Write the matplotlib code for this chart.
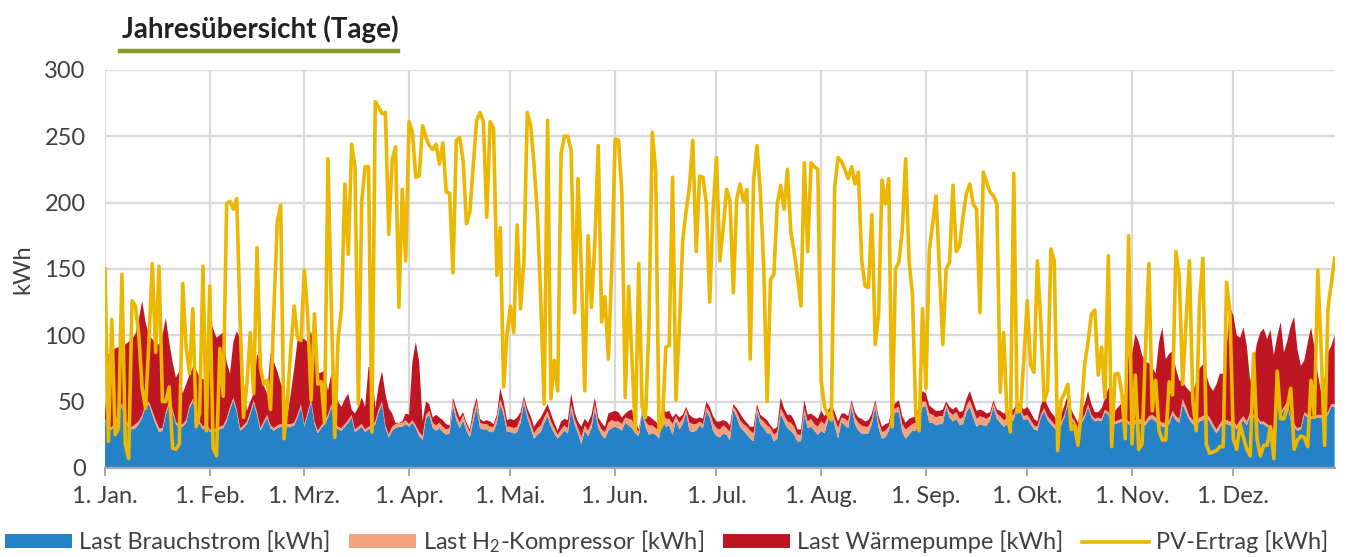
import matplotlib
matplotlib.use("Agg")
import matplotlib.pyplot as plt
from matplotlib.lines import Line2D
import numpy as np

plt.rcParams["font.family"] = ["Lato", "DejaVu Sans"]
plt.rcParams["mathtext.default"] = "regular"

month_labels = ["1. Jan.", "1. Feb.", "1. Mrz.", "1. Apr.", "1. Mai.", "1. Jun.",
                "1. Jul.", "1. Aug.", "1. Sep.", "1. Okt.", "1. Nov.", "1. Dez."]
month_days = [31, 28, 31, 30, 31, 30, 31, 31, 30, 31, 30, 31]

# daily values, one row per month (kWh)
brauchstrom = [
    36, 28, 29, 32, 40, 47, 35, 30, 29, 30, 33, 38, 46, 48, 40, 33, 27, 28, 40, 48, 42, 33, 30, 31, 34, 45, 50, 42, 33, 29, 32,
    27, 27, 28, 29, 30, 35, 44, 51, 42, 28, 30, 33, 40, 49, 40, 28, 33, 38, 30, 28, 30, 31, 31, 31, 31, 32, 38, 46,
    31, 40, 50, 33, 26, 30, 33, 38, 46, 32, 29, 28, 31, 34, 38, 27, 29, 31, 27, 29, 30, 33, 42, 48, 30, 23, 28, 30, 31, 31, 33,
    31, 34, 30, 24, 21, 37, 40, 30, 28, 30, 27, 25, 26, 47, 36, 30, 36, 28, 23, 35, 46, 30, 29, 29, 27, 27, 34, 48, 40, 27,
    27, 26, 27, 34, 49, 38, 30, 22, 25, 27, 34, 39, 31, 26, 22, 25, 28, 26, 44, 33, 26, 18, 28, 24, 30, 44, 30, 25, 22, 28, 30,
    31, 30, 28, 34, 32, 30, 26, 24, 41, 31, 25, 26, 25, 22, 36, 31, 32, 25, 36, 29, 33, 42, 28, 27, 28, 32, 30, 43, 38, 28,
    24, 23, 26, 25, 21, 44, 38, 31, 28, 25, 22, 20, 43, 33, 30, 26, 26, 20, 22, 41, 35, 30, 28, 25, 20, 20, 41, 30, 31, 28, 25,
    28, 26, 36, 46, 32, 22, 35, 32, 30, 46, 33, 28, 26, 26, 26, 33, 46, 30, 22, 23, 28, 37, 42, 42, 27, 22, 25, 28, 28, 36, 46,
    46, 34, 34, 32, 33, 33, 46, 38, 35, 37, 32, 33, 42, 46, 38, 31, 33, 32, 32, 36, 46, 37, 34, 31, 33, 35, 36, 47, 42, 36,
    37, 33, 29, 28, 38, 43, 36, 33, 30, 28, 32, 38, 48, 36, 33, 28, 33, 38, 46, 38, 35, 36, 35, 42, 40, 35, 33, 34, 35, 36, 33,
    31, 33, 34, 33, 32, 36, 37, 35, 33, 31, 31, 33, 40, 36, 34, 48, 42, 36, 33, 32, 35, 36, 38, 35, 30, 26, 30, 34, 33, 32,
    32, 29, 33, 36, 32, 40, 38, 37, 33, 33, 31, 29, 26, 46, 40, 44, 48, 36, 31, 28, 29, 40, 38, 37, 37, 38, 38, 37, 40, 46, 46,
]
h2_kompressor = [
    1, 2, 2, 2, 2, 2, 2, 2, 2, 3, 2, 2, 2, 2, 3, 3, 3, 2, 2, 2, 2, 2, 2, 2, 2, 2, 2, 2, 2, 2, 2,
    2, 2, 2, 2, 2, 2, 2, 2, 2, 2, 2, 2, 2, 2, 2, 2, 2, 2, 2, 2, 2, 2, 2, 2, 2, 2, 2, 2,
    2, 2, 2, 2, 2, 2, 2, 2, 2, 2, 2, 2, 2, 2, 2, 2, 2, 2, 2, 2, 2, 2, 2, 2, 2, 2, 3, 3, 3, 3, 3,
    2, 2, 2, 3, 3, 3, 3, 4, 4, 4, 4, 4, 4, 4, 4, 4, 4, 4, 4, 4, 4, 4, 4, 4, 4, 4, 4, 4, 4, 4,
    4, 4, 4, 4, 3, 3, 4, 4, 5, 5, 4, 4, 4, 4, 3, 4, 4, 4, 4, 4, 4, 5, 4, 4, 4, 4, 4, 4, 5, 6, 6,
    4, 5, 5, 4, 5, 6, 5, 3, 1, 4, 7, 6, 5, 6, 6, 6, 5, 8, 3, 5, 4, 2, 6, 6, 5, 3, 3, 3, 4, 6,
    6, 6, 6, 5, 6, 2, 4, 5, 5, 6, 6, 6, 2, 4, 5, 6, 4, 5, 5, 4, 5, 5, 6, 6, 5, 5, 4, 5, 6, 5, 6,
    7, 7, 3, 0, 5, 8, 3, 5, 5, 3, 5, 6, 6, 5, 5, 4, 3, 5, 5, 5, 3, 5, 3, 4, 6, 7, 6, 5, 6, 5, 4,
    4, 7, 6, 6, 6, 6, 2, 4, 5, 5, 5, 5, 5, 5, 6, 6, 6, 6, 5, 3, 3, 4, 5, 5, 4, 5, 4, 1, 2, 3,
    3, 3, 3, 3, 2, 2, 3, 3, 3, 2, 2, 2, 2, 3, 2, 2, 3, 2, 2, 2, 2, 2, 2, 2, 2, 3, 2, 2, 2, 2, 2,
    3, 3, 3, 3, 3, 3, 3, 3, 3, 3, 3, 3, 3, 3, 3, 4, 4, 3, 3, 3, 3, 3, 3, 3, 3, 3, 3, 3, 3, 3,
    3, 3, 3, 3, 3, 2, 2, 2, 2, 2, 2, 2, 2, 2, 2, 2, 2, 2, 2, 2, 2, 2, 2, 2, 2, 2, 2, 2, 2, 2, 2,
]
waermepumpe = [
    2, 56, 57, 56, 49, 41, 56, 63, 66, 68, 77, 86, 62, 50, 54, 58, 63, 70, 71, 45, 36, 33, 41, 23, 27, 23, 24, 30, 33, 36, 32,
    84, 76, 68, 69, 70, 43, 25, 42, 59, 68, 34, 8, 8, 5, 44, 50, 27, 16, 55, 50, 41, 31, 25, 7, 23, 41, 56, 50,
    64, 53, 51, 53, 43, 40, 38, 18, 23, 21, 19, 16, 19, 20, 4, 12, 15, 20, 17, 45, 44, 10, 18, 23, 24, 20, 10, 1, 0, 1, 5,
    7, 44, 63, 53, 11, 10, 5, 4, 8, 4, 5, 4, 2, 2, 5, 4, 2, 2, 2, 5, 3, 3, 2, 3, 4, 2, 2, 8, 6, 5,
    6, 6, 7, 4, 2, 4, 5, 5, 5, 6, 5, 5, 6, 4, 3, 6, 5, 6, 8, 5, 5, 8, 5, 6, 6, 5, 4, 5, 4, 7, 6,
    8, 7, 5, 3, 6, 8, 4, 2, 1, 4, 7, 5, 5, 4, 5, 5, 6, 5, 2, 4, 3, 2, 6, 5, 4, 3, 4, 4, 4, 5,
    5, 6, 4, 5, 5, 2, 3, 5, 4, 3, 3, 5, 3, 3, 3, 4, 2, 4, 4, 8, 5, 5, 6, 5, 4, 4, 6, 5, 4, 6, 6,
    8, 6, 4, 2, 5, 5, 3, 4, 4, 2, 4, 4, 5, 4, 5, 4, 2, 4, 4, 5, 3, 4, 4, 5, 6, 5, 6, 5, 5, 6, 8,
    6, 6, 5, 5, 4, 5, 2, 4, 4, 4, 5, 5, 5, 7, 6, 6, 5, 5, 4, 3, 2, 3, 4, 5, 5, 4, 4, 2, 3, 5,
    6, 6, 5, 4, 7, 8, 8, 6, 6, 4, 6, 7, 5, 5, 4, 4, 8, 8, 10, 8, 5, 4, 8, 8, 18, 20, 8, 10, 12, 18, 50,
    51, 65, 58, 49, 45, 40, 36, 33, 59, 72, 48, 50, 45, 36, 29, 13, 15, 19, 20, 30, 37, 39, 29, 24, 25, 34, 38, 34, 54, 86,
    80, 68, 62, 67, 57, 23, 39, 55, 67, 70, 64, 73, 57, 51, 68, 41, 46, 69, 81, 59, 46, 39, 54, 67, 52, 31, 17, 28, 45, 44, 52,
]
pv_ertrag = [
    150, 20, 112, 25, 30, 146, 18, 7, 126, 122, 100, 60, 45, 95, 154, 87, 152, 50, 50, 61, 15, 14, 18, 139, 91, 71, 120, 31, 41, 152, 28,
    137, 15, 9, 90, 54, 199, 201, 195, 203, 110, 38, 63, 102, 56, 166, 76, 63, 66, 44, 120, 186, 198, 22, 51, 90, 122, 98, 96,
    149, 115, 51, 116, 63, 65, 34, 233, 120, 23, 98, 120, 214, 161, 244, 227, 48, 201, 227, 227, 27, 276, 272, 267, 268, 176, 232, 242, 121, 210, 156,
    261, 253, 219, 220, 258, 249, 243, 240, 244, 229, 245, 208, 207, 147, 247, 249, 232, 184, 193, 228, 262, 268, 261, 189, 261, 256, 145, 181, 61, 101,
    122, 102, 183, 120, 156, 268, 258, 229, 191, 126, 48, 262, 52, 81, 58, 237, 250, 250, 239, 117, 218, 150, 58, 175, 121, 170, 243, 110, 129, 82, 150,
    248, 247, 207, 53, 137, 81, 28, 154, 46, 38, 106, 253, 224, 28, 33, 91, 92, 219, 51, 106, 171, 193, 212, 247, 163, 220, 219, 199, 125, 194,
    234, 156, 181, 210, 201, 132, 203, 214, 201, 210, 82, 217, 243, 207, 150, 50, 142, 146, 199, 213, 195, 225, 178, 163, 144, 122, 230, 163, 230, 227, 225,
    66, 46, 40, 36, 212, 234, 231, 225, 218, 227, 214, 223, 156, 137, 136, 191, 93, 116, 217, 199, 218, 31, 150, 155, 179, 233, 156, 131, 41, 28, 120,
    60, 164, 184, 205, 150, 93, 150, 155, 213, 163, 168, 190, 207, 214, 199, 195, 117, 223, 215, 208, 205, 199, 57, 102, 41, 27, 222, 42, 43, 82,
    126, 77, 72, 156, 110, 51, 58, 165, 156, 13, 51, 56, 63, 29, 32, 17, 43, 78, 95, 116, 119, 70, 91, 53, 160, 16, 71, 71, 56, 22, 175,
    18, 70, 14, 18, 90, 154, 43, 66, 28, 21, 21, 65, 55, 163, 144, 63, 110, 156, 51, 28, 126, 158, 18, 11, 12, 13, 16, 16, 140, 117,
    22, 14, 33, 23, 14, 9, 86, 22, 9, 17, 17, 31, 7, 73, 37, 37, 46, 60, 14, 21, 24, 23, 16, 66, 38, 149, 88, 17, 120, 139, 158,
]

days = np.arange(len(pv_ertrag))
month_starts = np.concatenate([[0], np.cumsum(month_days)[:-1]])

c_blue = "#2682C7"
c_salmon = "#F4A27C"
c_red = "#BE1622"
c_yellow = "#EBB700"
c_text = "#404040"

fig = plt.figure(figsize=(13.55, 5.57), dpi=100)
ax = fig.add_axes([0.0775, 0.160, 0.9075, 0.7145])

ax.stackplot(days, brauchstrom, h2_kompressor, waermepumpe,
             colors=[c_blue, c_salmon, c_red], linewidth=0,
             labels=["Last Brauchstrom [kWh]", "Last H$_2$-Kompressor [kWh]",
                     "Last Wärmepumpe [kWh]"], zorder=2)
ax.plot(days, pv_ertrag, color=c_yellow, lw=2.6, label="PV-Ertrag [kWh]", zorder=3)

ax.set_xlim(0, len(days) - 1)
ax.set_ylim(0, 300)
ax.set_yticks(range(0, 301, 50))
ax.set_xticks(month_starts)
ax.set_xticklabels(month_labels)
ax.grid(True, color="#D9D9D9", lw=1.6, zorder=0)
ax.set_axisbelow(True)
for side in ["top", "right", "left"]:
    ax.spines[side].set_visible(False)
ax.spines["bottom"].set_color("#A6A6A6")
ax.spines["bottom"].set_linewidth(1.6)
ax.spines["bottom"].set_zorder(4)
ax.tick_params(axis="x", colors="#A6A6A6", length=6, width=1.4, labelcolor=c_text,
               labelsize=17, pad=7)
ax.tick_params(axis="y", length=0, labelcolor=c_text, labelsize=17, pad=14)
ax.set_ylabel("kWh", fontsize=17, color=c_text, labelpad=8)

fig.text(0.090, 0.948, "Jahresübersicht (Tage)", fontsize=20, fontweight="bold",
         color="#222222", va="center", ha="left")
fig.add_artist(Line2D([0.0886, 0.2937], [0.909, 0.909], color="#8A9A2A", lw=3.2))

handles, labels = ax.get_legend_handles_labels()
fig.legend(handles, labels, loc="lower left", ncol=4, frameon=False,
           bbox_to_anchor=(-0.012, -0.035, 1.008, 0.06), mode="expand",
           fontsize=17, handlelength=2.85, handleheight=0.5, handletextpad=0.3,
           labelcolor=c_text)

fig.savefig("out.png", dpi=100)
